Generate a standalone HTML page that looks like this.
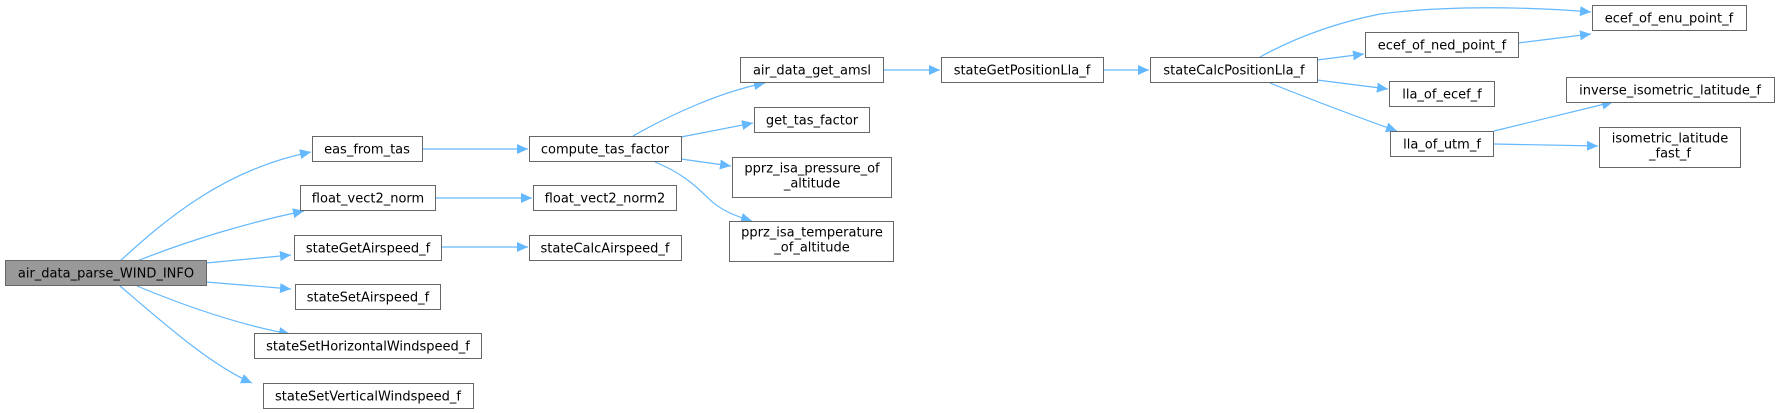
<!DOCTYPE html>
<html><head><meta charset="utf-8"><style>
html,body{margin:0;padding:0;background:#fff;}
svg{display:block;}
text{font-family:"DejaVu Sans","Liberation Sans",sans-serif;font-size:13px;fill:#000;}
.b{fill:#fff;stroke:#666;stroke-width:1;}
.e{fill:none;stroke:#63b8ff;stroke-width:1.2;}
</style></head><body>
<svg width="1779" height="413" viewBox="0 0 1779 413" xmlns="http://www.w3.org/2000/svg">
<defs><marker id="a" markerUnits="userSpaceOnUse" markerWidth="12" markerHeight="10" refX="11" refY="5" orient="auto"><path d="M0,0 L11,5 L0,10 z" fill="#63b8ff"/></marker></defs>
<g class="e" marker-end="url(#a)">
<path d="M120,261 C160,225 220,170 311,152"/>
<path d="M137,261 C190,240 250,222 304,211"/>
<path d="M206,263 L291,255"/>
<path d="M206,282 L291,289"/>
<path d="M137,286 C190,308 240,325 290,334"/>
<path d="M120,286 C160,320 210,365 252,383"/>
<path d="M421,149 L528,149"/>
<path d="M435,198 L532,198"/>
<path d="M439,247 L528,247"/>
<path d="M633,136 C670,115 720,92 765,83"/>
<path d="M681,137 L753,123"/>
<path d="M681,159 L731,166"/>
<path d="M655,162 C680,172 695,185 708,198 C720,210 735,216 752,221"/>
<path d="M883,70 L940,70"/>
<path d="M1103,70 L1149,70"/>
<path d="M1260,57 C1300,35 1340,22 1380,14 C1450,5 1530,7 1591,12"/>
<path d="M1317,60 L1364,54"/>
<path d="M1518,43 L1591,34"/>
<path d="M1317,80 L1388,89"/>
<path d="M1270,83 C1320,103 1360,118 1397,131"/>
<path d="M1494,131 L1613,102"/>
<path d="M1494,144 L1598,146"/>
</g>
<rect x="5.5" y="260.5" width="201" height="25" fill="#999" stroke="#666"/>
<text x="106" y="277.5" text-anchor="middle">air_data_parse_WIND_INFO</text>
<g>
<rect class="b" x="312.5" y="136.5" width="110" height="25"/><text x="367" y="153.5" text-anchor="middle">eas_from_tas</text>
<rect class="b" x="300.5" y="185.5" width="135" height="25"/><text x="368" y="202.5" text-anchor="middle">float_vect2_norm</text>
<rect class="b" x="294.5" y="235.5" width="147" height="25"/><text x="368" y="252.5" text-anchor="middle">stateGetAirspeed_f</text>
<rect class="b" x="295.5" y="284.5" width="145" height="25"/><text x="368" y="301.5" text-anchor="middle">stateSetAirspeed_f</text>
<rect class="b" x="254.5" y="333.5" width="227" height="25"/><text x="368" y="350.5" text-anchor="middle">stateSetHorizontalWindspeed_f</text>
<rect class="b" x="263.5" y="383.5" width="210" height="25"/><text x="368" y="400.5" text-anchor="middle">stateSetVerticalWindspeed_f</text>
<rect class="b" x="529.5" y="136.5" width="152" height="25"/><text x="605" y="153.5" text-anchor="middle">compute_tas_factor</text>
<rect class="b" x="533.5" y="185.5" width="143" height="25"/><text x="605" y="202.5" text-anchor="middle">float_vect2_norm2</text>
<rect class="b" x="529.5" y="235.5" width="152" height="25"/><text x="605" y="252.5" text-anchor="middle">stateCalcAirspeed_f</text>
<rect class="b" x="740.5" y="57.5" width="143" height="25"/><text x="812" y="74.5" text-anchor="middle">air_data_get_amsl</text>
<rect class="b" x="754.5" y="107.5" width="115" height="25"/><text x="812" y="124.5" text-anchor="middle">get_tas_factor</text>
<rect class="b" x="732.5" y="157.5" width="159" height="40"/><text x="812" y="172.5" text-anchor="middle">pprz_isa_pressure_of</text><text x="812" y="187.5" text-anchor="middle">_altitude</text>
<rect class="b" x="729.5" y="221.5" width="164" height="40"/><text x="812" y="236.5" text-anchor="middle">pprz_isa_temperature</text><text x="812" y="251.5" text-anchor="middle">_of_altitude</text>
<rect class="b" x="941.5" y="57.5" width="162" height="25"/><text x="1022" y="74.5" text-anchor="middle">stateGetPositionLla_f</text>
<rect class="b" x="1150.5" y="57.5" width="167" height="25"/><text x="1234" y="74.5" text-anchor="middle">stateCalcPositionLla_f</text>
<rect class="b" x="1365.5" y="32.5" width="153" height="25"/><text x="1442" y="49.5" text-anchor="middle">ecef_of_ned_point_f</text>
<rect class="b" x="1592.5" y="5.5" width="154" height="25"/><text x="1669" y="22.5" text-anchor="middle">ecef_of_enu_point_f</text>
<rect class="b" x="1389.5" y="81.5" width="105" height="25"/><text x="1442" y="98.5" text-anchor="middle">lla_of_ecef_f</text>
<rect class="b" x="1390.5" y="131.5" width="103" height="25"/><text x="1442" y="148.5" text-anchor="middle">lla_of_utm_f</text>
<rect class="b" x="1566.5" y="77.5" width="208" height="25"/><text x="1670" y="94.5" text-anchor="middle">inverse_isometric_latitude_f</text>
<rect class="b" x="1599.5" y="127.5" width="141" height="40"/><text x="1670" y="142.5" text-anchor="middle">isometric_latitude</text><text x="1670" y="157.5" text-anchor="middle">_fast_f</text>
</g>
</svg>
</body></html>
